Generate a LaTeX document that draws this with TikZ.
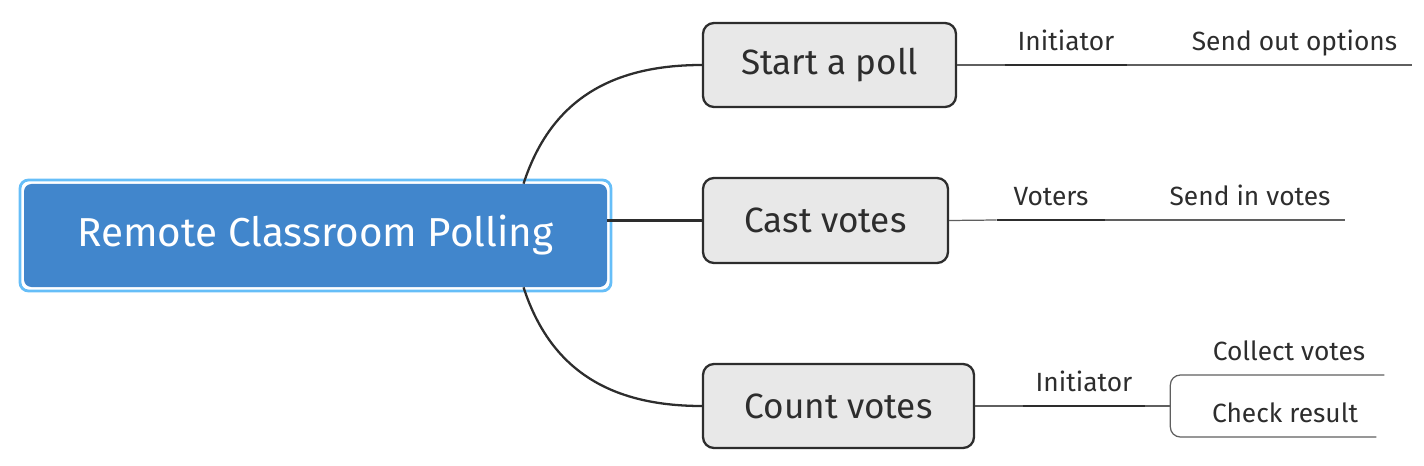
\documentclass[tikz,border=0pt]{standalone}
\usepackage{fontspec}
\setmainfont{Fira Sans}
\usepackage{tikz}
\usetikzlibrary{positioning}
\newcommand{\pix}{0.02cm}
\tikzstyle{mindMap} = [x = \pix, y = -\pix]
\definecolor{rootColor}{RGB}{65,134,204}
\definecolor{frameColor}{RGB}{102,190,248}
\definecolor{topicColor}{RGB}{232,232,232}
\definecolor{lineColor}{RGB}{45,45,45}
\definecolor{thinColor}{RGB}{95,95,95}
\definecolor{textColor}{RGB}{45,45,45}
\tikzstyle{rootStyle} = [fill=rootColor, text=white, rounded corners = .15cm, font=\fontsize{23}{27}\selectfont]
\tikzstyle{frameStyle} = [draw=frameColor, line width=1.6pt, rounded corners = .17cm]
\tikzstyle{topicStyle} = [draw=lineColor, fill=topicColor, line width=1.3pt, rounded corners = .22cm, text=textColor, font=\fontsize{20}{24}\selectfont]
\tikzstyle{curveLine} = [draw=lineColor, line width=1.3pt]
\tikzstyle{thinLine} = [draw=thinColor, line width=.7pt]
\tikzstyle{underLine} = [draw=lineColor, line width=1.1pt]
\tikzstyle{labelText} = [anchor=south, text=textColor, inner xsep=0pt, inner ysep=.28cm, text depth=0pt, font=\fontsize{15}{18}\selectfont]
\newcommand{\branchLabel}[5]{\node [labelText, minimum width = #4*\pix] (#1) at (#2, #3) {#5};}
\newcommand{\topicBox}[6]{\node [topicStyle, minimum width = #4*\pix, minimum height = #5*\pix] (#1) at (#2, #3) {#6};}

\begin{document}
\begin{tikzpicture}[mindMap]
  \useasboundingbox (0,0) rectangle (1424,466);

  \node [rootStyle, minimum width = 583*\pix, minimum height = 103*\pix] (root) at (315.5, 235.5) {Remote Classroom Polling};
  \node [frameStyle, minimum width = 591*\pix, minimum height = 111*\pix] (rootFrame) at (root) {};

  \topicBox{start}{829.5}{65}{253}{84}{Start a poll}
  \topicBox{cast}{825.5}{220.5}{245}{85}{Cast votes}
  \topicBox{count}{838.5}{406}{271}{84}{Count votes}

  \draw [curveLine] (root.14.5) .. controls +(26,-80) and +(-95,0) .. (start.west);
  \draw [curveLine] (root.east |- cast.west) -- (cast.west);
  \draw [curveLine] (root.-14.5) .. controls +(26,80) and +(-95,0) .. (count.west);

  \branchLabel{startRole}{1066}{65}{122}{Initiator}
  \branchLabel{startAction}{1294.5}{65}{235}{Send out options}
  \draw [thinLine] (start.east) -- (startRole.south west);
  \draw [underLine] (startRole.south west) -- (startRole.south east);
  \draw [thinLine] (startRole.south east) -- (startAction.south east);

  \branchLabel{castRole}{1051}{220}{108}{Voters}
  \branchLabel{castAction}{1250}{220}{190}{Send in votes}
  \draw [thinLine] (cast.east) -- (castRole.south west);
  \draw [underLine] (castRole.south west) -- (castRole.south east);
  \draw [thinLine] (castRole.south east) -- (castAction.south east);

  \branchLabel{countRole}{1084}{406}{122}{Initiator}
  \branchLabel{collect}{1289}{375}{190}{Collect votes}
  \branchLabel{check}{1285}{437}{182}{Check result}
  \draw [thinLine] (count.east) -- (countRole.south west);
  \draw [underLine] (countRole.south west) -- (countRole.south east);
  \draw [thinLine] (countRole.south east) -- ++(25,0) coordinate (countFork);
  \draw [thinLine, rounded corners = .2cm] (collect.south east) -| (countFork) |- (check.south east);
\end{tikzpicture}
\end{document}
